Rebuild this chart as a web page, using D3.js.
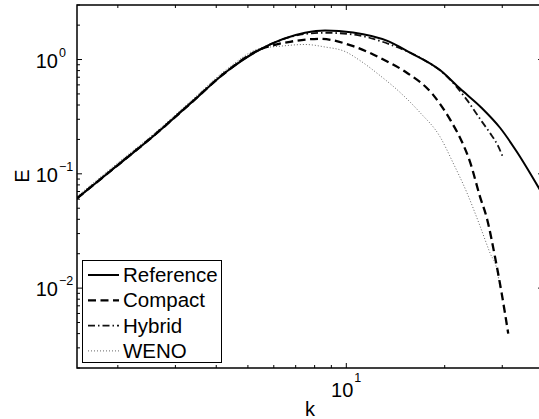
<!DOCTYPE html>
<html>
<head>
<meta charset="utf-8">
<script src="https://cdn.jsdelivr.net/npm/d3@7/dist/d3.min.js"></script>
<style>
  html, body { margin: 0; padding: 0; background: #fff; }
  svg { display: block; }
  text { font-family: "Liberation Sans", Arial, Helvetica, sans-serif; fill: #000; }
</style>
</head>
<body>
<svg id="chart" width="539" height="419"></svg>
<script>
// ---- data ----
const refK   = [1.5, 1.975, 2.598, 3.326, 4.315, 5.445, 7.477, 8.61, 10.48, 13.42, 15.66, 19.35, 22.27, 25.96, 29.53, 33.2, 38.86, 40];
const refE   = [0.061, 0.1157, 0.2198, 0.4096, 0.789, 1.224, 1.715, 1.796, 1.725, 1.447, 1.152, 0.809, 0.557, 0.377, 0.253, 0.157, 0.0749, 0.065];

const compK  = [1.5, 1.975, 2.598, 3.326, 4.315, 5.445, 5.844, 6.725, 8.31, 10.50, 13.29, 15.12, 18.41, 20.91, 22.54, 23.89, 25.64, 27.0, 28.5, 29.88, 31.29];
const compE  = [0.061, 0.1157, 0.2198, 0.4096, 0.789, 1.224, 1.31, 1.430, 1.519, 1.308, 0.966, 0.785, 0.493, 0.289, 0.193, 0.128, 0.0632, 0.0395, 0.0188, 0.00899, 0.0040];

const hybK   = [1.5, 1.975, 2.598, 3.326, 4.315, 5.445, 7.477, 8.61, 10.50, 13.61, 17.20, 20.04, 23.35, 25.96, 27.52, 29.17, 30.22];
const hybE   = [0.0612, 0.1168, 0.2221, 0.4137, 0.796, 1.224, 1.674, 1.715, 1.657, 1.354, 1.0, 0.739, 0.4458, 0.2876, 0.2275, 0.1736, 0.1373];

const wenoK  = [1.5, 1.975, 2.598, 3.326, 4.315, 5.445, 6.269, 7.477, 8.61, 9.91, 11.01, 12.68, 14.60, 16.81, 19.35, 21.21, 23.40, 25.64, 27.52, 28.91, 29.53];
const wenoE  = [0.0635, 0.1212, 0.2289, 0.428, 0.8255, 1.249, 1.308, 1.354, 1.287, 1.175, 0.980, 0.724, 0.516, 0.3436, 0.2112, 0.1249, 0.0681, 0.0350, 0.0203, 0.01438, 0.0102];

const seriesNames = ["Reference", "Compact", "Hybrid", "WENO"];
const xMajor = [10];
const xMajorExp = ["1"];
const yMajor = [0.01, 0.1, 1];
const yMajorExp = ["\u22122", "\u22121", "0"];
const xLabel = "k";
const yLabel = "E";

// ---- layout ----
const L = 77, R = 543.1, T = 5, B = 368;
const svg = d3.select("#chart");
const x = d3.scaleLog().domain([1.5, 40]).range([L, R]);
const y = d3.scaleLog().domain([0.002, 3]).range([B, T]);

svg.append("defs").append("clipPath").attr("id", "clip")
  .append("rect").attr("x", L).attr("y", T).attr("width", R - L).attr("height", B - T);

const styles = [
  { stroke: "#000", width: 2, dash: null },
  { stroke: "#000", width: 2.3, dash: "8,4.5" },
  { stroke: "#111", width: 1.8, dash: "7,3,1.5,3" },
  { stroke: "#666", width: 1, dash: "1,2" }
];
const allSeries = [
  refK.map((k, i) => [k, refE[i]]),
  compK.map((k, i) => [k, compE[i]]),
  hybK.map((k, i) => [k, hybE[i]]),
  wenoK.map((k, i) => [k, wenoE[i]])
];

const line = d3.line().x(d => x(d[0])).y(d => y(d[1])).curve(d3.curveMonotoneX);
const plot = svg.append("g").attr("clip-path", "url(#clip)");
// draw WENO first, reference last
[3, 2, 1, 0].forEach(i => {
  plot.append("path").datum(allSeries[i])
    .attr("d", line)
    .attr("fill", "none")
    .attr("stroke", styles[i].stroke)
    .attr("stroke-width", styles[i].width)
    .attr("stroke-dasharray", styles[i].dash);
});

// ---- axes (box with inward ticks on all sides) ----
const ax = svg.append("g").attr("stroke", "#000").attr("stroke-width", 1);
const xTicks = x.ticks();
const yTicks = y.ticks();
const isMajorX = v => xMajor.some(m => Math.abs(m - v) < 1e-9);
const isMajorY = v => yMajor.some(m => Math.abs(m - v) < 1e-12);

xTicks.forEach(v => {
  const len = isMajorX(v) ? 5 : 3;
  const px = x(v);
  ax.append("line").attr("x1", px).attr("x2", px).attr("y1", B).attr("y2", B - len);
  ax.append("line").attr("x1", px).attr("x2", px).attr("y1", T).attr("y2", T + len);
});
yTicks.forEach(v => {
  const len = isMajorY(v) ? 5 : 3;
  const py = y(v);
  ax.append("line").attr("x1", L).attr("x2", L + len).attr("y1", py).attr("y2", py);
  ax.append("line").attr("x1", R).attr("x2", R - len).attr("y1", py).attr("y2", py);
});
svg.append("rect").attr("x", L).attr("y", T).attr("width", R - L).attr("height", B - T)
  .attr("fill", "none").attr("stroke", "#000").attr("stroke-width", 1.5);

// ---- tick labels ----
yMajor.forEach((v, i) => {
  const py = y(v);
  svg.append("text").attr("x", 58).attr("y", py + 8).attr("text-anchor", "end")
    .attr("font-size", 20).text("10");
  svg.append("text").attr("x", 59).attr("y", py - 3).attr("text-anchor", "start")
    .attr("font-size", 12.5).text(yMajorExp[i]);
});
xMajor.forEach((v, i) => {
  const px = x(v);
  svg.append("text").attr("x", px + 7).attr("y", 397).attr("text-anchor", "end")
    .attr("font-size", 20).text("10");
  svg.append("text").attr("x", px + 8).attr("y", 382).attr("text-anchor", "start")
    .attr("font-size", 12.5).text(xMajorExp[i]);
});

// ---- axis labels ----
svg.append("text").attr("x", 310).attr("y", 416).attr("text-anchor", "middle")
  .attr("font-size", 20).text(xLabel);
svg.append("text").attr("transform", "translate(29,176) rotate(-90)")
  .attr("text-anchor", "middle").attr("font-size", 20).text(yLabel);

// ---- legend ----
const lg = svg.append("g");
lg.append("rect").attr("x", 82.5).attr("y", 260.5).attr("width", 139).attr("height", 102)
  .attr("fill", "#fff").attr("stroke", "#000").attr("stroke-width", 1);
seriesNames.forEach((name, i) => {
  const cy = 275 + i * 25.3;
  lg.append("line").attr("x1", 88).attr("x2", 119).attr("y1", cy).attr("y2", cy)
    .attr("stroke", styles[i].stroke).attr("stroke-width", styles[i].width)
    .attr("stroke-dasharray", styles[i].dash);
  lg.append("text").attr("x", 123).attr("y", cy + 7).attr("font-size", 20.5).text(name);
});
</script>
</body>
</html>
